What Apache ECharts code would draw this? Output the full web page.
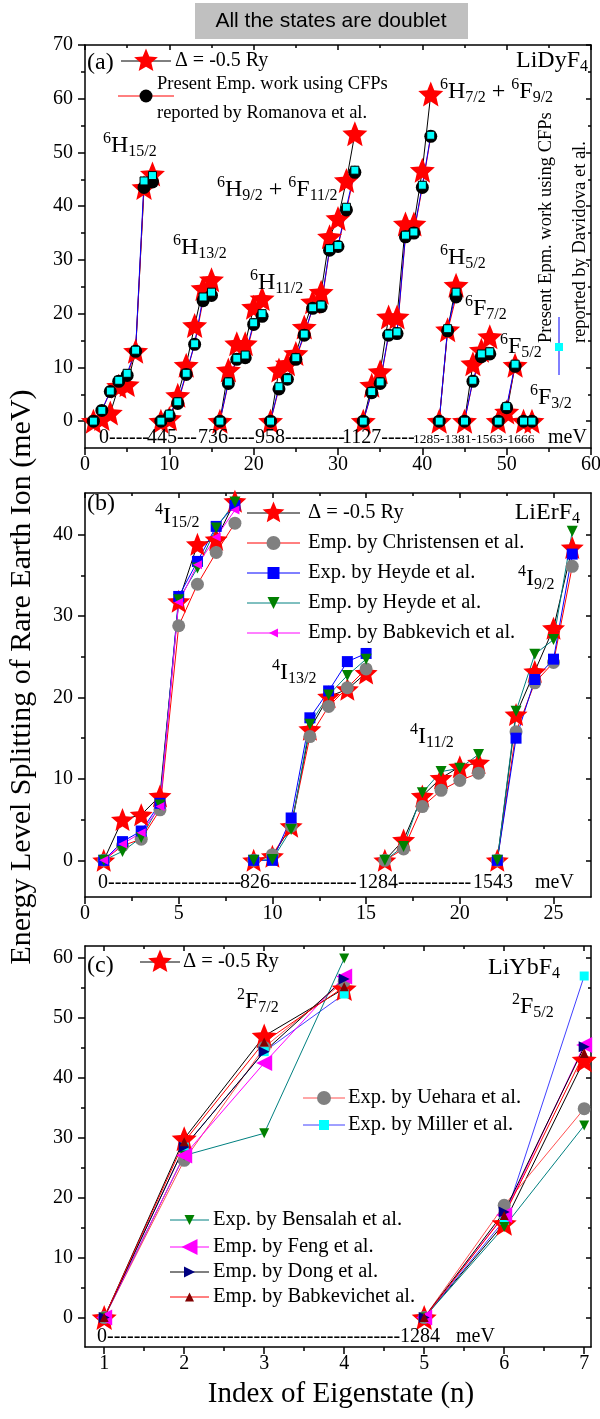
<!DOCTYPE html>
<html>
<head>
<meta charset="utf-8">
<title>Crystal field splitting</title>
<script src="https://cdn.jsdelivr.net/npm/echarts@6/dist/echarts.min.js"></script>
<style>
  html, body { margin: 0; padding: 0; background: #fff; }
  #chart { width: 600px; height: 1419px; }
</style>
</head>
<body>
<div id="chart"></div>
<script>
// ---- panel (a) LiDyF4: doublets per multiplet, values in meV ----
const aGroups = [8, 7, 6, 11, 9, 3, 4, 3, 2];
const aStar = [
  [0, 0.5, 1.5, 6.5, 6.8, 13.0, 43.5, 46.0],
  [0, 0.5, 4.8, 10.4, 17.8, 24.7, 26.3],
  [0, 9.5, 14.4, 14.4, 21.2, 22.8],
  [0, 9.5, 10.7, 12.6, 17.5, 22.2, 24.0, 34.3, 37.7, 44.8, 53.5],
  [0, 6.7, 9.2, 19.4, 19.4, 36.7, 36.7, 46.7, 60.9],
  [0, 17.0, 25.3],
  [0, 10.7, 13.2, 15.7],
  [0, 1.7, 10.4],
  [0, 0]
];
const aRomanova = [
  [0, 2.0, 5.5, 7.4, 8.5, 13.0, 43.5, 44.5],
  [0, 1.0, 3.3, 8.7, 14.3, 22.4, 23.4],
  [0, 7.0, 11.5, 11.8, 18.0, 19.5],
  [0, 6.0, 7.8, 11.5, 16.0, 21.0, 21.3, 31.8, 32.5, 39.3, 46.3],
  [0, 5.3, 7.0, 16.0, 16.3, 34.3, 35.0, 43.5, 53.0],
  [0, 16.8, 23.1],
  [0, 7.4, 12.0, 12.5],
  [0, 2.5, 10.2],
  [0, 0]
];
const aDavidova = [
  [0, 2.0, 5.6, 7.6, 8.9, 13.2, 44.7, 45.7],
  [0, 1.3, 3.6, 8.9, 14.4, 23.1, 24.0],
  [0, 7.3, 11.7, 12.3, 18.3, 20.0],
  [0, 6.4, 7.9, 11.8, 16.2, 21.1, 21.6, 32.1, 32.7, 39.8, 46.7],
  [0, 5.5, 7.3, 16.2, 16.6, 34.6, 35.2, 43.9, 53.2],
  [0, 17.2, 24.0],
  [0, 7.6, 12.5, 12.9],
  [0, 2.7, 10.6],
  [0, 0]
];

// ---- panel (b) LiErF4 ----
const bGroups = [8, 7, 6, 5];
const bStar = [
  [0, 5.0, 5.6, 7.9, 31.8, 38.8, 39.4, 44.1],
  [0, 0.5, 4.2, 16.1, 20.1, 21.0, 23.0],
  [0, 2.5, 7.9, 10.1, 11.5, 12.0],
  [0, 17.9, 23.2, 28.5, 38.4]
];
const bChristensen = [
  [0, 1.8, 2.6, 6.2, 28.8, 33.9, 37.8, 41.4],
  [0, 0.7, 4.2, 15.2, 18.9, 21.2, 23.5],
  [0, 1.4, 6.6, 8.6, 9.8, 10.7],
  [0, 15.8, 21.8, 24.3, 36.1]
];
const bHeydeExp = [
  [0, 2.3, 3.6, 7.0, 32.4, 36.7, 41.0, 43.6],
  [0, 0, 5.2, 17.5, 20.8, 24.4, 25.4],
  null,
  [0, 15.0, 22.2, 24.7, 37.6]
];
const bHeydeEmp = [
  [0, 1.1, 2.8, 6.8, 32.0, 35.9, 40.8, 44.0],
  [0, 0.1, 3.8, 16.7, 20.3, 22.7, 24.7],
  [0, 1.7, 8.3, 10.9, 11.3, 13.0],
  [0, 18.3, 25.3, 27.1, 40.4]
];
const bBabkevich = [
  [0, 2.0, 3.4, 6.6, 31.7, 36.3, 39.7, 43.0],
  null, null, null
];

// ---- panel (c) LiYbF4 ----
const cGroups = [4, 3];
const cStar = [[0, 29.8, 46.9, 54.8], [0, 15.7, 42.9]];
const cUehara = [[0, 26.2, 45.0, 56.0], [0, 18.7, 34.8]];
const cMiller = [[0, 28.4, 44.3, 53.9], [0, 16.2, 56.9]];
const cBensalah = [[0, 27.0, 30.7, 59.8], [0, 15.1, 32.0]];
const cFeng = [[0, 27.0, 42.4, 56.8], [0, 17.1, 45.4]];
const cDong = [[0, 28.4, 44.3, 56.4], [0, 17.6, 45.1]];
const cBabkevich = [[0, 29.3, 45.9, 55.1], [0, 17.0, 44.0]];

// ---- tick values ----
const aXMajor = [0, 10, 20, 30, 40, 50, 60];
const aXMinor = [5, 15, 25, 35, 45, 55];
const aYMajor = [0, 10, 20, 30, 40, 50, 60, 70];
const aYMinor = [5, 15, 25, 35, 45, 55, 65];
const bXMajor = [0, 5, 10, 15, 20, 25];
const bXMinor = [2.5, 7.5, 12.5, 17.5, 22.5];
const bYMajor = [0, 10, 20, 30, 40];
const bYMinor = [5, 15, 25, 35];
const cXMajor = [1, 2, 3, 4, 5, 6, 7];
const cXMinor = [1.5, 2.5, 3.5, 4.5, 5.5, 6.5];
const cYMajor = [0, 10, 20, 30, 40, 50, 60];
const cYMinor = [5, 15, 25, 35, 45, 55];

const SERIF = 'Liberation Serif';
const STAR = 'path://M0,-10L2.645,-3.641L9.511,-3.09L4.28,1.391L5.878,8.09L0,4.5L-5.878,8.09L-4.28,1.391L-9.511,-3.09L-2.645,-3.641Z';

// index n runs on through the multiplets; a gap point breaks the line between them
function build(groups, vals) {
  const out = [];
  let x = 1;
  groups.forEach((n, g) => {
    const v = vals[g];
    if (v) {
      for (let i = 0; i < n; i++) out.push([x + i, v[i]]);
    }
    x += n;
    out.push([x - 0.5, '-']);
  });
  return out;
}

const xAxes = [];
const yAxes = [];
function axisSet(list, gi, pos, opp, min, max, major, minor, margin) {
  const base = { gridIndex: gi, type: 'value', min: min, max: max, splitLine: { show: false } };
  const ls = { color: '#000', width: 1.5 };
  list.push(
    Object.assign({}, base, {
      position: pos,
      axisLine: { show: true, onZero: false, lineStyle: ls },
      axisTick: { show: true, customValues: major, length: 7, lineStyle: ls },
      axisLabel: { show: true, customValues: major, margin: margin, color: '#000', fontFamily: SERIF, fontSize: 20 }
    }),
    Object.assign({}, base, {
      position: pos,
      axisLine: { show: false, onZero: false },
      axisTick: { show: true, customValues: minor, length: 4, lineStyle: ls },
      axisLabel: { show: false }
    }),
    Object.assign({}, base, {
      position: opp,
      axisLine: { show: true, onZero: false, lineStyle: ls },
      axisTick: { show: true, inside: true, customValues: major, length: 5, lineStyle: ls },
      axisLabel: { show: false }
    }),
    Object.assign({}, base, {
      position: opp,
      axisLine: { show: false, onZero: false },
      axisTick: { show: true, inside: true, customValues: minor, length: 3, lineStyle: ls },
      axisLabel: { show: false }
    })
  );
}
axisSet(xAxes, 0, 'bottom', 'top', 0, 60, aXMajor, aXMinor, 7);
axisSet(yAxes, 0, 'left', 'right', -5, 70, aYMajor, aYMinor, 12);
axisSet(xAxes, 1, 'bottom', 'top', 0, 27, bXMajor, bXMinor, 7);
axisSet(yAxes, 1, 'left', 'right', -4.5, 45.1, bYMajor, bYMinor, 12);
axisSet(xAxes, 2, 'bottom', 'top', 0.76, 7.085, cXMajor, cXMinor, 7);
axisSet(yAxes, 2, 'left', 'right', -4.9, 61.9, cYMajor, cYMinor, 12);

function ser(gi, name, data, symbol, size, fill, line, rot, border) {
  return {
    type: 'line', name: name, data: data,
    xAxisIndex: gi * 4, yAxisIndex: gi * 4,
    symbol: symbol, symbolSize: size, symbolRotate: rot || 0,
    connectNulls: false, animation: false,
    itemStyle: { color: fill, borderColor: border || fill, borderWidth: border ? 1 : 0, opacity: 1 },
    lineStyle: { color: line, width: 1 },
    emphasis: { disabled: true }
  };
}

const series = [
  ser(0, 'a Δ', build(aGroups, aStar), STAR, 25, '#ff0000', '#000'),
  ser(0, 'a Romanova', build(aGroups, aRomanova), 'circle', 13, '#000', '#ff0000'),
  ser(0, 'a Davidova', build(aGroups, aDavidova), 'rect', 8, '#00ffff', '#0000ff', 0, '#000'),

  ser(1, 'b Δ', build(bGroups, bStar), STAR, 23, '#ff0000', '#000'),
  ser(1, 'b Christensen', build(bGroups, bChristensen), 'circle', 13, '#808080', '#ff0000'),
  ser(1, 'b Heyde exp', build(bGroups, bHeydeExp), 'rect', 11, '#0000ff', '#0000ff'),
  ser(1, 'b Heyde emp', build(bGroups, bHeydeEmp), 'triangle', 11, '#008000', '#008080', 180),
  ser(1, 'b Babkevich', build(bGroups, bBabkevich), 'triangle', 9, '#ff00ff', '#ff00ff', 90),

  ser(2, 'c Δ', build(cGroups, cStar), STAR, 25, '#ff0000', '#000'),
  ser(2, 'c Uehara', build(cGroups, cUehara), 'circle', 13, '#808080', '#ff5050'),
  ser(2, 'c Miller', build(cGroups, cMiller), 'rect', 9, '#00ffff', '#4040ff'),
  ser(2, 'c Bensalah', build(cGroups, cBensalah), 'triangle', 10, '#008000', '#008080', 180),
  ser(2, 'c Feng', build(cGroups, cFeng), 'triangle', 16, '#ff00ff', '#ff00ff', 90),
  ser(2, 'c Dong', build(cGroups, cDong), 'triangle', 11, '#000080', '#000', -90),
  ser(2, 'c Babkevich', build(cGroups, cBabkevich), 'triangle', 9, '#800000', '#ff0000')
];

// ---- text and legend helpers ----
function txt(x, y, text, size, style, rot) {
  return {
    type: 'text', x: x, y: y, z: 50, rotation: rot || 0,
    style: Object.assign({ text: text, fontSize: size, fontFamily: SERIF, fill: '#000', align: 'left', verticalAlign: 'middle' }, style || {})
  };
}
// term symbols like 6H15/2: pieces laid out one after the other, measured on a canvas
const meas = document.createElement('canvas').getContext('2d');
function textW(s, size) {
  meas.font = size + 'px "Liberation Serif"';
  return meas.measureText(s).width;
}
const PIECE = { m: [24, 0], p: [16, -7], b: [16, 6] };
function term(x, y, parts, right) {
  let total = 0;
  parts.forEach(p => { total += textW(p[1], PIECE[p[0]][0]); });
  let cx = right ? x - total : x;
  const out = [];
  parts.forEach(p => {
    const f = PIECE[p[0]];
    out.push(txt(cx, y + f[1], p[1], f[0]));
    cx += textW(p[1], f[0]);
  });
  return out;
}
function starPts(cx, cy, r) {
  const pts = [];
  for (let i = 0; i < 10; i++) {
    const a = -Math.PI / 2 + i * Math.PI / 5;
    const rr = i % 2 ? r * 0.45 : r;
    pts.push([cx + rr * Math.cos(a), cy + rr * Math.sin(a)]);
  }
  return pts;
}
function triPts(cx, cy, s, dir) {
  const h = s / 2;
  if (dir === 'up') return [[cx, cy - h], [cx + h, cy + h], [cx - h, cy + h]];
  if (dir === 'down') return [[cx, cy + h], [cx + h, cy - h], [cx - h, cy - h]];
  if (dir === 'left') return [[cx - h, cy], [cx + h, cy - h], [cx + h, cy + h]];
  return [[cx + h, cy], [cx - h, cy - h], [cx - h, cy + h]];
}
function icon(kind, cx, cy, s, fill) {
  if (kind === 'star') return { type: 'polygon', z: 50, shape: { points: starPts(cx, cy, s / 2) }, style: { fill: fill } };
  if (kind === 'circle') return { type: 'circle', z: 50, shape: { cx: cx, cy: cy, r: s / 2 }, style: { fill: fill } };
  if (kind === 'rect') return { type: 'rect', z: 50, shape: { x: cx - s / 2, y: cy - s / 2, width: s, height: s }, style: { fill: fill } };
  return { type: 'polygon', z: 50, shape: { points: triPts(cx, cy, s, kind) }, style: { fill: fill } };
}
const LEG = 20.5;
function row(x1, x2, y, lineColor, kind, s, fill, tx, text, size) {
  return [
    { type: 'line', z: 50, shape: { x1: x1, y1: y, x2: x2, y2: y }, style: { stroke: lineColor, lineWidth: 1 } },
    icon(kind, (x1 + x2) / 2, y, s, fill),
    txt(tx, y, text, size || LEG)
  ];
}

const graphics = [].concat(
  // heading box
  [{ type: 'rect', z: 50, shape: { x: 195, y: 3, width: 273, height: 36 }, style: { fill: '#c0c0c0' } },
   txt(331, 21, 'All the states are doublet', 21, { fontFamily: 'Liberation Sans', align: 'center' })],
  // axis titles
  [txt(22, 677, 'Energy Level Splitting of Rare Earth Ion (meV)', 30, { align: 'center' }, Math.PI / 2),
   txt(341, 1394, 'Index of Eigenstate (n)', 29, { align: 'center' })],

  // panel (a)
  [txt(87, 63, '(a)', 24)],
  row(121, 171, 61, '#000', 'star', 25, '#ff0000', 175, 'Δ = -0.5 Ry', 20),
  [{ type: 'line', z: 50, shape: { x1: 118, y1: 96, x2: 174, y2: 96 }, style: { stroke: '#ff0000', lineWidth: 1 } },
   icon('circle', 146, 96, 13, '#000'),
   txt(157, 84, 'Present Emp. work using CFPs', 18.5),
   txt(157, 113, 'reported by Romanova et al.', 18.5)],
  [{ type: 'line', z: 50, shape: { x1: 559, y1: 317, x2: 559, y2: 375 }, style: { stroke: '#0000ff', lineWidth: 1 } },
   icon('rect', 559, 347, 8, '#00ffff'),
   txt(546, 343, 'Present Epm. work using CFPs', 18.5, null, Math.PI / 2),
   txt(580, 343, 'reported by Davidova et al.', 18.5, null, Math.PI / 2)],
  term(588, 61, [['m', 'LiDyF'], ['b', '4']], true),
  term(103, 146, [['p', '6'], ['m', 'H'], ['b', '15/2']]),
  term(173, 248, [['p', '6'], ['m', 'H'], ['b', '13/2']]),
  term(250, 283, [['p', '6'], ['m', 'H'], ['b', '11/2']]),
  term(217, 190, [['p', '6'], ['m', 'H'], ['b', '9/2'], ['m', ' + '], ['p', '6'], ['m', 'F'], ['b', '11/2']]),
  term(440, 92, [['p', '6'], ['m', 'H'], ['b', '7/2'], ['m', ' + '], ['p', '6'], ['m', 'F'], ['b', '9/2']]),
  term(440, 258, [['p', '6'], ['m', 'H'], ['b', '5/2']]),
  term(465, 309, [['p', '6'], ['m', 'F'], ['b', '7/2']]),
  term(500, 347, [['p', '6'], ['m', 'F'], ['b', '5/2']]),
  term(530, 398, [['p', '6'], ['m', 'F'], ['b', '3/2']]),
  [txt(99, 438, '0------', 20),
   txt(147, 438, '445---', 20),
   txt(198, 438, '736----', 20),
   txt(255, 438, '958---------', 20),
   txt(342, 438, '1127-----', 20),
   txt(413, 439.5, '1285-1381-1563-1666', 13.5),
   txt(548, 438, 'meV', 20)],

  // panel (b)
  [txt(87, 504, '(b)', 24)],
  row(247, 300, 513, '#000', 'star', 23, '#ff0000', 308, 'Δ = -0.5 Ry'),
  row(247, 300, 543, '#ff0000', 'circle', 14, '#808080', 308, 'Emp. by Christensen et al.'),
  row(247, 300, 573, '#0000ff', 'rect', 12, '#0000ff', 308, 'Exp. by Heyde et al.'),
  row(247, 300, 603, '#008080', 'down', 12, '#008000', 308, 'Emp. by Heyde et al.'),
  row(247, 300, 633, '#ff00ff', 'left', 9, '#ff00ff', 308, 'Emp. by Babkevich et al.'),
  term(580, 513, [['m', 'LiErF'], ['b', '4']], true),
  term(155, 517, [['p', '4'], ['m', 'I'], ['b', '15/2']]),
  term(272, 673, [['p', '4'], ['m', 'I'], ['b', '13/2']]),
  term(410, 737, [['p', '4'], ['m', 'I'], ['b', '11/2']]),
  term(518, 579, [['p', '4'], ['m', 'I'], ['b', '9/2']]),
  [txt(98, 883, '0--------------------', 20),
   txt(240, 883, '826-------------', 20),
   txt(358, 883, '1284-----------', 20),
   txt(473, 883, '1543', 20),
   txt(535, 883, 'meV', 20)],

  // panel (c)
  [txt(87, 966, '(c)', 24)],
  row(140, 180, 962, '#000', 'star', 25, '#ff0000', 183, 'Δ = -0.5 Ry'),
  row(303, 345, 1098, '#ff5050', 'circle', 14, '#808080', 348, 'Exp. by Uehara et al.'),
  row(303, 345, 1125, '#4040ff', 'rect', 10, '#00ffff', 348, 'Exp. by Miller et al.'),
  row(170, 209, 1220, '#008080', 'down', 10, '#008000', 213, 'Exp. by Bensalah et al.'),
  row(170, 209, 1247, '#ff00ff', 'left', 16, '#ff00ff', 213, 'Emp. by Feng et al.'),
  row(170, 209, 1272, '#000', 'right', 11, '#000080', 213, 'Emp. by Dong et al.'),
  row(170, 209, 1297, '#ff0000', 'up', 9, '#800000', 213, 'Emp. by Babkevichet al.'),
  term(560, 968, [['m', 'LiYbF'], ['b', '4']], true),
  term(237, 1002, [['p', '2'], ['m', 'F'], ['b', '7/2']]),
  term(512, 1007, [['p', '2'], ['m', 'F'], ['b', '5/2']]),
  [txt(97, 1337, '0--------------------------------------------', 20),
   txt(400, 1337, '1284', 20),
   txt(456, 1337, 'meV', 20)]
);

const chart = echarts.init(document.getElementById('chart'), null, { renderer: 'canvas' });
chart.setOption({
  backgroundColor: '#fff',
  animation: false,
  grid: [
    { left: 85, top: 45, width: 506, height: 403, outerBoundsMode: 'none' },
    { left: 85, top: 493, width: 506, height: 404, outerBoundsMode: 'none' },
    { left: 85, top: 946, width: 506, height: 401, outerBoundsMode: 'none' }
  ],
  xAxis: xAxes,
  yAxis: yAxes,
  series: series,
  graphic: { elements: graphics }
});
</script>
</body>
</html>
